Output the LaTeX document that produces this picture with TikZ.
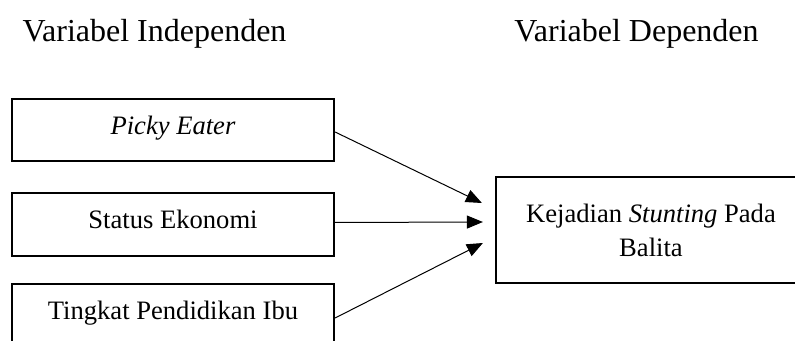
\documentclass[tikz,border=0pt]{standalone}
\usepackage{fontspec}
\setmainfont{Liberation Serif}
\usetikzlibrary{arrows.meta,calc}
\begin{document}
\begin{tikzpicture}[x=1pt,y=1pt,
  title/.style={anchor=base,font=\fontsize{32}{38}\selectfont,inner sep=0pt},
  varbox/.style={draw,line width=2.2pt,minimum width=322pt,minimum height=62.5pt,inner sep=0pt,
    font=\fontsize{26.6}{34}\selectfont,text height=18pt,text depth=9pt},
  depbox/.style={draw,line width=2.2pt,minimum width=310pt,minimum height=106pt,inner sep=0pt,
    align=center,font=\fontsize{26.6}{34}\selectfont},
  conn/.style={line width=1pt,-{Triangle[length=16pt,width=13pt]}}]
\useasboundingbox (0,0) rectangle (795,340);
\fill[white] (0,0) rectangle (795,340);
\clip (0,0) rectangle (795,340);
\node[title] (ti) at (154.5,298) {Variabel Independen};
\node[title] (td) at (636.5,298) {Variabel Dependen};
\node[varbox] (b1) at (173,210) {\textit{Picky Eater}};
\node[varbox] (b2) at (173,115.5) {Status Ekonomi};
\node[varbox] (b3) at (173,24.5) {Tingkat Pendidikan Ibu};
\node[depbox] (r) at (651,110) {Kejadian \textit{Stunting} Pada\\Balita};
\coordinate (t1) at ($(r.west)+(-13,27)$);
\coordinate (t2) at ($(r.west)+(-12,8)$);
\coordinate (t3) at ($(r.west)+(-12,-13)$);
\draw[conn] ([yshift=-2pt]b1.east) -- (t1);
\draw[conn] ([yshift=2pt]b2.east) -- (t2);
\draw[conn] ([yshift=-2.5pt]b3.east) -- (t3);
\end{tikzpicture}
\end{document}
